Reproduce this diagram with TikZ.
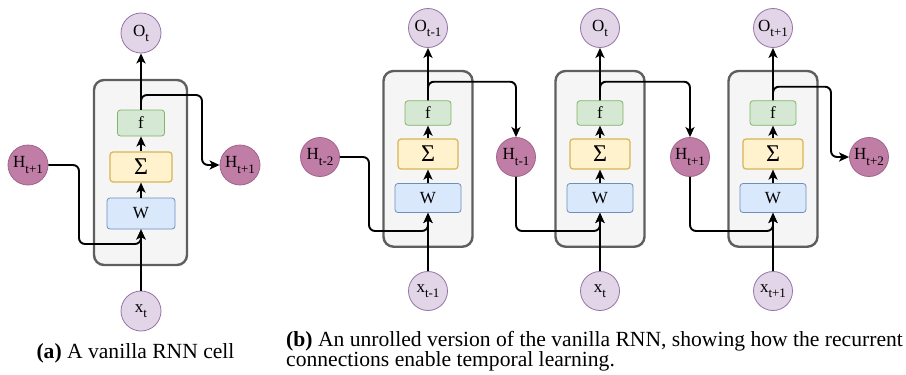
\documentclass[tikz,border=0pt]{standalone}
\usepackage{fontspec}
\setmainfont{Liberation Serif}
\usetikzlibrary{arrows.meta}

\definecolor{cellfill}{HTML}{F5F5F5}
\definecolor{celldraw}{HTML}{5E5E5E}
\definecolor{ofill}{HTML}{E1D5E7}
\definecolor{odraw}{HTML}{9673A6}
\definecolor{hfill}{HTML}{C07DA6}
\definecolor{hdraw}{HTML}{A0648A}
\definecolor{ffill}{HTML}{D5E8D4}
\definecolor{fdraw}{HTML}{82B366}
\definecolor{sfill}{HTML}{FFF2CC}
\definecolor{sdraw}{HTML}{D6B656}
\definecolor{wfill}{HTML}{DAE8FC}
\definecolor{wdraw}{HTML}{6C8EBF}

\newcommand{\sbs}[1]{\raisebox{-0.3em}{\fontsize{13}{13}\selectfont #1}}

\tikzset{
  lbl/.style={font=\fontsize{17}{17}\selectfont},
  onode/.style={circle, minimum size=40pt, inner sep=0pt, fill=ofill, draw=odraw, line width=0.8pt, lbl},
  hnode/.style={circle, minimum size=40pt, inner sep=0pt, fill=hfill, draw=hdraw, line width=0.8pt, lbl},
  cellbox/.style={draw=celldraw, fill=cellfill, line width=2.4pt, rounded corners=10pt},
  fbox/.style={rectangle, rounded corners=3pt, fill=ffill, draw=fdraw, line width=0.8pt, inner sep=0pt, lbl},
  sbox/.style={rectangle, rounded corners=3pt, fill=sfill, draw=sdraw, line width=1.2pt, inner sep=0pt, font=\fontsize{24}{24}\selectfont},
  wbox/.style={rectangle, rounded corners=3pt, fill=wfill, draw=wdraw, line width=0.8pt, inner sep=0pt, lbl},
  conn/.style={line width=1.9pt, rounded corners=6pt, -{Stealth[length=10pt,width=9pt,inset=2.5pt]}},
  capt/.style={font=\fontsize{21.6}{21.6}\selectfont, inner sep=0pt}
}

\begin{document}
\begin{tikzpicture}[x=1pt,y=-1pt]
\useasboundingbox (0,0) rectangle (906,375);

% ---------- (a) single cell ----------
\draw[cellbox] (94,80) rectangle (187,265);
\node[fbox, minimum width=47pt, minimum height=26pt] (fa) at (141,123) {f};
\node[sbox, minimum width=62pt, minimum height=30pt] (sa) at (141,167) {Σ};
\node[wbox, minimum width=68pt, minimum height=31pt] (wa) at (141,213.5) {W};
\node[onode] (oa) at (141,33) {O\sbs{t}};
\node[onode] (xa) at (141,311) {x\sbs{t}};
\node[hnode] (hina) at (28,165) {H\sbs{t+1}};
\node[hnode] (houta) at (240,165) {H\sbs{t+1}};

\draw[conn] (xa.north) -- (wa.south);
\draw[conn] (wa.north) -- (sa.south);
\draw[conn] (sa.north) -- (fa.south);
\draw[conn] (fa.north) -- (oa.south);
\draw[conn] (hina.east) -- (79,165) -- (79,244) -- (141,244) -- (wa.south);
\draw[conn] (fa.north) -- (141,95) -- (202,95) -- (202,165) -- (houta.west);

% ---------- (b) unrolled cells ----------
\foreach \i/\cx/\sub in {1/428/t-1, 2/600/t, 3/773/t+1}{
  \draw[cellbox] (\cx-44.5,71) rectangle (\cx+44.5,246.7);
  \node[fbox, minimum width=46pt, minimum height=24.5pt] (f\i) at (\cx,113) {f};
  \node[sbox, minimum width=60pt, minimum height=30pt] (s\i) at (\cx,154) {Σ};
  \node[wbox, minimum width=66pt, minimum height=29pt] (w\i) at (\cx,198) {W};
  \node[onode, minimum size=39pt] (o\i) at (\cx,28) {O\sbs{\sub}};
  \node[onode, minimum size=39pt] (x\i) at (\cx,291) {x\sbs{\sub}};
  \draw[conn] (x\i.north) -- (w\i.south);
  \draw[conn] (w\i.north) -- (s\i.south);
  \draw[conn] (s\i.north) -- (f\i.south);
  \draw[conn] (f\i.north) -- (o\i.south);
}

\node[hnode, minimum size=39pt] (h0) at (320,157) {H\sbs{t-2}};
\node[hnode, minimum size=39pt] (h1) at (516,157) {H\sbs{t-1}};
\node[hnode, minimum size=39pt] (h2) at (690,157) {H\sbs{t+1}};
\node[hnode, minimum size=39pt] (h3) at (869,157) {H\sbs{t+2}};

% recurrent connections
\draw[conn] (h0.east) -- (369,157) -- (369,231) -- (428,231) -- (w1.south);
\draw[conn] (f1.north) -- (428,81.7) -- (516,81.7) -- (h1.north);
\draw[conn] (h1.south) -- (516,231) -- (600,231) -- (w2.south);
\draw[conn] (f2.north) -- (600,81.7) -- (690,81.7) -- (h2.north);
\draw[conn] (h2.south) -- (690,231) -- (773,231) -- (w3.south);
\draw[conn] (f3.north) -- (773,86.7) -- (831,86.7) -- (831,157) -- (h3.west);

% ---------- captions ----------
\node[capt, anchor=base] (capa) at (135.5,358.3) {\textbf{(a)} A vanilla RNN cell};
\node[capt, anchor=base west] (capb1) at (286,346) {\textbf{(b)} An unrolled version of the vanilla RNN, showing how the recurrent};
\node[capt, anchor=base west] (capb2) at (286,366.7) {connections enable temporal learning.};
\end{tikzpicture}
\end{document}
